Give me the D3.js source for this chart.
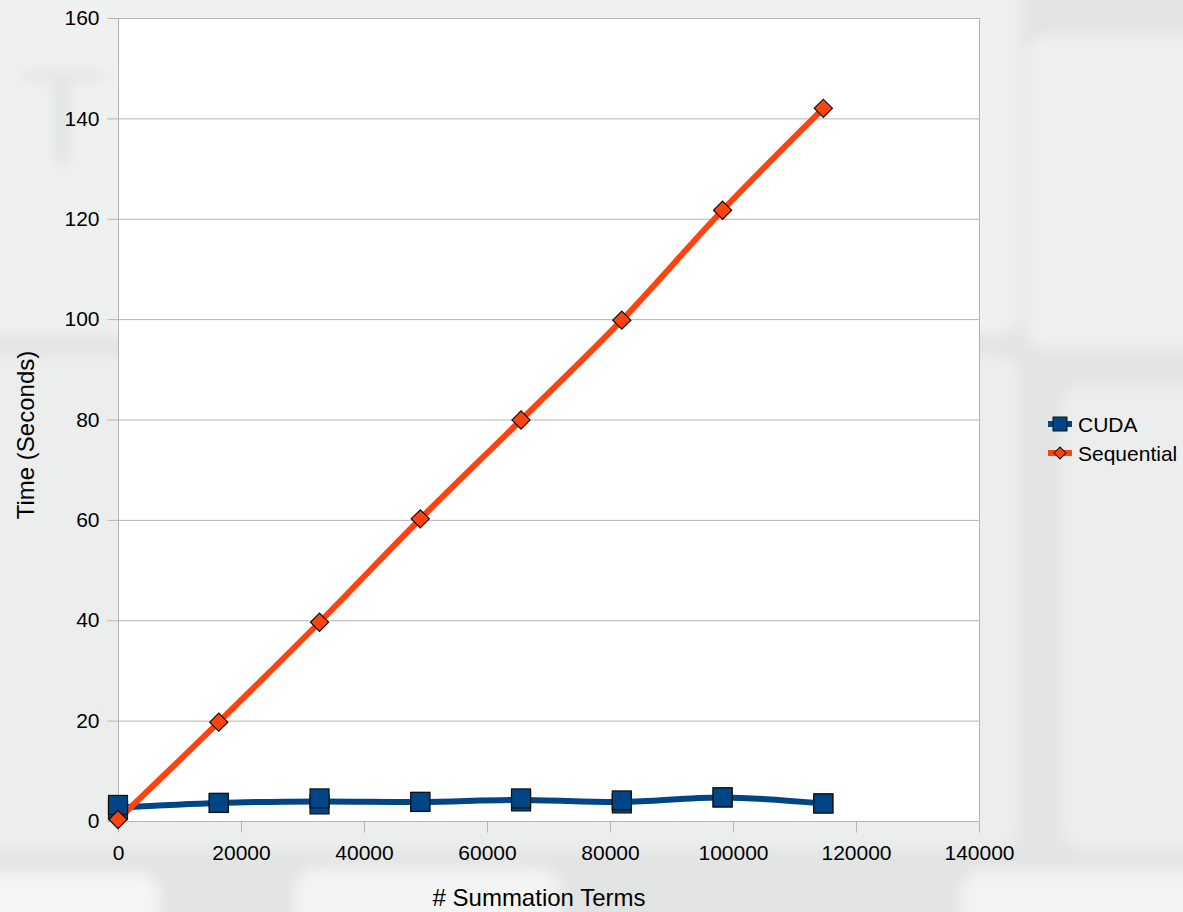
<!DOCTYPE html>
<html>
<head>
<meta charset="utf-8">
<script src="https://cdn.jsdelivr.net/npm/d3@7"></script>
<style>
  html, body { margin: 0; padding: 0; background: #e6e8e8; }
  svg { display: block; font-family: "Liberation Sans", Arial, sans-serif; }
</style>
</head>
<body>
<div id="chart"></div>
<script>
// Chart data
const terms = [0, 16384, 32768, 49152, 65536, 81920, 98304, 114688];
const sequential = [0.3, 19.7, 39.6, 60.2, 79.9, 99.8, 121.7, 142.0];
// CUDA: two runs per point (squares overlap where they match)
const cudaRun1 = [3.2, 3.6, 4.5, 3.8, 4.5, 4.1, 4.7, 3.5];
const cudaRun2 = [2.2, 3.6, 3.3, 3.8, 3.9, 3.5, 4.7, 3.5];
const yTicks = [0, 20, 40, 60, 80, 100, 120, 140, 160];
const xTicks = [0, 20000, 40000, 60000, 80000, 100000, 120000, 140000];
const seriesNames = ['CUDA', 'Sequential'];

const W = 1183, H = 912;
const margin = { top: 18, right: 204, bottom: 91, left: 118 };
const width = W - margin.left - margin.right;
const height = H - margin.top - margin.bottom;

const colors = { CUDA: '#004586', Sequential: '#ff420e' };

const svg = d3.select('#chart').append('svg')
    .attr('width', W)
    .attr('height', H);

// blurred keyboard photo behind the chart (rough approximation)
const defs = svg.append('defs');
defs.append('filter').attr('id', 'blur')
    .attr('x', '-20%').attr('y', '-20%').attr('width', '140%').attr('height', '140%')
    .append('feGaussianBlur').attr('stdDeviation', 7);

const bg = svg.append('g').attr('filter', 'url(#blur)');
bg.append('rect').attr('x', -20).attr('y', -20).attr('width', W + 40).attr('height', H + 40).attr('fill', '#e2e4e4');
const keys = [
    { x: -40, y: -40, w: 1060, h: 375, f: '#eff1f1' },
    { x: -40, y: 355, w: 1060, h: 495, f: '#eceeee' },
    { x: 1025, y: 35, w: 200, h: 315, f: '#eef0f0' },
    { x: 1060, y: 385, w: 180, h: 465, f: '#eceeee' },
    { x: -40, y: 872, w: 200, h: 80, f: '#f4f5f5' },
    { x: 295, y: 868, w: 265, h: 80, f: '#f3f4f4' },
    { x: 960, y: 870, w: 260, h: 80, f: '#f2f3f3' }
];
bg.selectAll('rect.key').data(keys).enter().append('rect')
    .attr('class', 'key')
    .attr('x', d => d.x).attr('y', d => d.y)
    .attr('width', d => d.w).attr('height', d => d.h)
    .attr('rx', 22)
    .attr('fill', d => d.f);
// faint "T" printed on the key
bg.append('rect').attr('x', 22).attr('y', 72).attr('width', 82).attr('height', 8).attr('fill', '#dfe2e2');
bg.append('rect').attr('x', 55).attr('y', 76).attr('width', 14).attr('height', 88).attr('fill', '#dfe2e2');

const g = svg.append('g').attr('transform', `translate(${margin.left},${margin.top})`);

const x = d3.scaleLinear().domain([0, 140000]).range([0, width]);
const y = d3.scaleLinear().domain([0, 160]).range([height, 0]);

g.append('rect').attr('width', width).attr('height', height).attr('fill', '#ffffff');

// grid
g.append('g').selectAll('line').data(yTicks).enter().append('line')
    .attr('x1', 0).attr('x2', width)
    .attr('y1', d => y(d) + 0.5).attr('y2', d => y(d) + 0.5)
    .attr('stroke', '#b3b3b3');
g.append('line')
    .attr('x1', width + 0.5).attr('x2', width + 0.5)
    .attr('y1', 0).attr('y2', height)
    .attr('stroke', '#b3b3b3');

// axes
const yAxis = g.append('g')
    .attr('transform', 'translate(0.5,0)')
    .call(d3.axisLeft(y).tickValues(yTicks).tickSize(11).tickPadding(8));
const xAxis = g.append('g')
    .attr('transform', `translate(0,${height + 0.5})`)
    .call(d3.axisBottom(x).tickValues(xTicks).tickSize(11).tickPadding(13).tickFormat(d3.format('d')));
[yAxis, xAxis].forEach(a => {
    a.selectAll('path, line').attr('stroke', '#b3b3b3');
    a.select('.domain').attr('d', null);
    a.selectAll('text').attr('fill', '#000').attr('font-size', 21)
        .attr('font-family', '"Liberation Sans", Arial, sans-serif');
});
g.append('line').attr('x1', 0.5).attr('x2', 0.5).attr('y1', 0).attr('y2', height).attr('stroke', '#b3b3b3');
g.append('line').attr('x1', 0).attr('x2', width).attr('y1', height + 0.5).attr('y2', height + 0.5).attr('stroke', '#b3b3b3');

// axis titles
svg.append('text')
    .attr('x', 539)
    .attr('y', 906)
    .attr('text-anchor', 'middle')
    .attr('font-size', 24)
    .text('# Summation Terms');
svg.append('text')
    .attr('transform', `translate(34,435) rotate(-90)`)
    .attr('text-anchor', 'middle')
    .attr('font-size', 24)
    .text('Time (Seconds)');

// lines
const cudaMean = terms.map((t, i) => ({ t, v: (cudaRun1[i] + cudaRun2[i]) / 2 }));
const seqPts = terms.map((t, i) => ({ t, v: sequential[i] }));
const line = d3.line().x(d => x(d.t)).y(d => y(d.v)).curve(d3.curveCatmullRom.alpha(0.5));

g.append('path').datum(cudaMean)
    .attr('d', line).attr('fill', 'none')
    .attr('stroke', colors.CUDA).attr('stroke-width', 6);
g.append('path').datum(seqPts)
    .attr('d', line).attr('fill', 'none')
    .attr('stroke', colors.Sequential).attr('stroke-width', 6);

// markers
const sq = 19;
const cudaPts = [];
terms.forEach((t, i) => {
    cudaPts.push({ t, v: cudaRun2[i] });
    cudaPts.push({ t, v: cudaRun1[i] });
});
g.append('g').selectAll('rect').data(cudaPts).enter().append('rect')
    .attr('x', d => x(d.t) - sq / 2).attr('y', d => y(d.v) - sq / 2)
    .attr('width', sq).attr('height', sq)
    .attr('fill', colors.CUDA).attr('stroke', '#111').attr('stroke-width', 1.2);

const diamond = d3.symbol().type(d3.symbolSquare).size(165);
g.append('g').selectAll('path').data(seqPts).enter().append('path')
    .attr('d', diamond)
    .attr('transform', d => `translate(${x(d.t)},${y(d.v)}) rotate(45)`)
    .attr('fill', colors.Sequential).attr('stroke', '#111').attr('stroke-width', 1.2);

// legend
const legend = svg.append('g').attr('transform', 'translate(1048,424)');
seriesNames.forEach((name, i) => {
    const row = legend.append('g').attr('transform', `translate(0,${i * 29})`);
    row.append('line').attr('x1', 0).attr('x2', 24).attr('y1', 0).attr('y2', 0)
        .attr('stroke', colors[name]).attr('stroke-width', 6);
    if (name === 'CUDA') {
        row.append('rect').attr('x', 5).attr('y', -7).attr('width', 14).attr('height', 14)
            .attr('fill', colors[name]).attr('stroke', '#111');
    } else {
        row.append('path').attr('d', d3.symbol().type(d3.symbolSquare).size(72))
            .attr('transform', 'translate(12,0) rotate(45)')
            .attr('fill', colors[name]).attr('stroke', '#111');
    }
    row.append('text').attr('x', 30).attr('y', 8).attr('font-size', 21).text(name);
});
</script>
</body>
</html>
